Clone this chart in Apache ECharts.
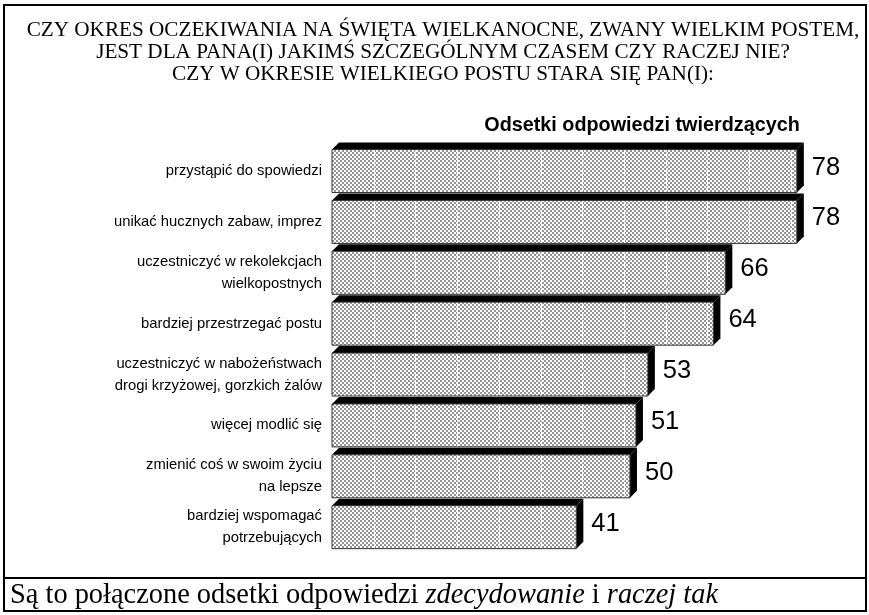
<!DOCTYPE html>
<html><head><meta charset="utf-8">
<script src="https://cdn.jsdelivr.net/npm/echarts@6/dist/echarts.min.js"></script>
<style>html,body{margin:0;padding:0;background:#fff}#c{width:869px;height:615px}</style>
</head><body><div id="c"></div>
<script>
const categories = ['przystąpić do spowiedzi','unikać hucznych zabaw, imprez','uczestniczyć w rekolekcjach\nwielkopostnych','bardziej przestrzegać postu','uczestniczyć w nabożeństwach\ndrogi krzyżowej, gorzkich żalów','więcej modlić się','zmienić coś w swoim życiu\nna lepsze','bardziej wspomagać\npotrzebujących'];
const values = [78,78,66,64,53,51,50,41];
const titleLines = ['CZY OKRES OCZEKIWANIA NA ŚWIĘTA WIELKANOCNE, ZWANY WIELKIM POSTEM,','JEST DLA PANA(I) JAKIMŚ SZCZEGÓLNYM CZASEM CZY RACZEJ NIE?','CZY W OKRESIE WIELKIEGO POSTU STARA SIĘ PAN(I):'];
const subtitle = 'Odsetki odpowiedzi twierdzących';
const gridStep = 7;

const pc = document.createElement('canvas'); pc.width = 4; pc.height = 4;
const g = pc.getContext('2d'); g.fillStyle = '#fff'; g.fillRect(0,0,4,4);
g.fillStyle = '#939393'; g.fillRect(0,0,2,2); g.fillRect(2,2,2,2);
const pattern = {image: pc, repeat: 'repeat'};

const chart = echarts.init(document.getElementById('c'));
const D = 7;
chart.setOption({
  animation: false,
  grid: {left: 332, right: 36.4, top: 145.6, bottom: 62.4},
  xAxis: {type: 'value', min: 0, max: 84, interval: gridStep, show: false},
  yAxis: {type: 'category', data: categories, inverse: true,
    axisLine: {show: false}, axisTick: {show: false},
    axisLabel: {margin: 10, color: '#000', fontFamily: 'Liberation Sans', fontSize: 14.8, lineHeight: 22}},
  series: [{
    type: 'custom',
    data: values.map((v, i) => [v, i]),
    renderItem: function (params, api) {
      const v = api.value(0), idx = api.value(1);
      const p0 = api.coord([0, idx]), p1 = api.coord([v, idx]);
      const band = api.size([0, 1])[1];
      const h = band * 0.845;
      const x0 = p0[0], x1 = p1[0], yc = p0[1];
      const yt = yc - h / 2, yb = yc + h / 2;
      const children = [
        {type: 'polygon', shape: {points: [[x0, yt], [x0 + D, yt - D], [x1 + D, yt - D], [x1, yt]]}, style: {fill: '#000'}},
        {type: 'polygon', shape: {points: [[x1, yt], [x1 + D, yt - D], [x1 + D, yb - D], [x1, yb]]}, style: {fill: '#000'}},
        {type: 'rect', shape: {x: x0, y: yt, width: x1 - x0, height: h}, style: {fill: pattern, stroke: '#333', lineWidth: 1}}
      ];
      for (let k = gridStep; k < v; k += gridStep) {
        const gx = Math.round(api.coord([k, idx])[0]) + 0.5;
        children.push({type: 'line', shape: {x1: gx, y1: yt + 1, x2: gx, y2: yb - 1}, style: {stroke: '#fff', lineWidth: 1, lineDash: [7, 2]}});
      }
      children.push({type: 'text', style: {text: String(v), x: x1 + D + 8, y: yc - D / 2, verticalAlign: 'middle', align: 'left', fill: '#000', font: '25.5px "Liberation Sans"'}});
      return {type: 'group', children: children};
    }
  }],
  graphic: [
    {type: 'rect', shape: {x: 4, y: 5, width: 862, height: 606}, style: {fill: 'none', stroke: '#000', lineWidth: 2}},
    {type: 'line', shape: {x1: 4, y1: 578, x2: 866, y2: 578}, style: {stroke: '#000', lineWidth: 2}},
    {type: 'text', x: 443, y: 30, style: {text: titleLines[0], align: 'center', verticalAlign: 'middle', fill: '#000', font: '21.2px "Liberation Serif"'}},
    {type: 'text', x: 443, y: 52, style: {text: titleLines[1], align: 'center', verticalAlign: 'middle', fill: '#000', font: '21.2px "Liberation Serif"'}},
    {type: 'text', x: 443, y: 74, style: {text: titleLines[2], align: 'center', verticalAlign: 'middle', fill: '#000', font: '21.2px "Liberation Serif"'}},
    {type: 'text', x: 642, y: 126, style: {text: subtitle, align: 'center', verticalAlign: 'middle', fill: '#000', font: 'bold 19.8px "Liberation Sans"'}},
    {type: 'text', x: 10, y: 596, style: {text: '{n|Są to połączone odsetki odpowiedzi }{i|zdecydowanie}{n| i }{i|raczej tak}', align: 'left', verticalAlign: 'middle',
      rich: {n: {fontFamily: 'Liberation Serif', fontSize: 28.4, fill: '#000'}, i: {fontFamily: 'Liberation Serif', fontSize: 28.4, fontStyle: 'italic', fill: '#000'}}}}
  ]
});
</script></body></html>
